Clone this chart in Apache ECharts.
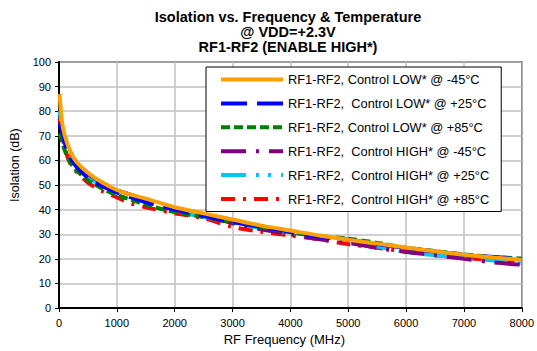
<!DOCTYPE html>
<html><head><meta charset="utf-8">
<script src="https://cdn.jsdelivr.net/npm/echarts@6/dist/echarts.min.js"></script>
<style>html,body{margin:0;padding:0;background:#fff}#c{width:537px;height:351px}</style>
</head><body><div id="c"></div>
<script>
var freq = [10, 50, 100, 200, 300, 500, 750, 1000, 1250, 1500, 2000, 2500, 3000, 3500, 4000, 4500, 5000, 5500, 6000, 6500, 7000, 7500, 8000];
var lowM45  = [87, 76, 70, 63.5, 59.5, 55, 51, 48, 46, 44.5, 41, 38.5, 36, 33.5, 31.5, 29.5, 27.8, 26.2, 24.6, 23.1, 21.7, 20.6, 19.6];
var lowP25  = [75, 72, 67, 61, 57.5, 53, 49.5, 47, 45, 43, 40, 37.5, 35, 33, 31, 29, 27.8, 26, 24.4, 23, 21.6, 20.8, 20];
var lowP85  = [71, 68, 64, 59, 56, 52, 48.5, 46, 44, 42, 39, 37, 35, 32.8, 30.8, 29.2, 28.2, 26.5, 24.5, 23.2, 21.8, 20.8, 20.1];
var highM45 = [76, 73, 68.5, 63, 59, 54.5, 51, 48, 46, 44, 40.5, 37.5, 34.5, 32, 30, 28, 26.5, 24.5, 22.8, 21.5, 20, 18.6, 17.6];
var highP25 = [80, 74, 67.5, 61.5, 57.5, 53, 50, 47, 45, 43, 39.5, 37, 34.5, 32.5, 30, 28.3, 26.8, 25, 22.8, 21.5, 20.6, 19.3, 18.2];
var highP85 = [77, 72, 65, 58.5, 55.5, 51, 47.5, 45, 42.5, 41, 38.5, 36.5, 33, 31, 29.5, 28, 26, 24.5, 23, 21.5, 20.4, 19.6, 19];
var names = [
  'RF1-RF2, Control LOW* @ -45°C',
  'RF1-RF2,  Control LOW* @ +25°C',
  'RF1-RF2, Control LOW* @ +85°C',
  'RF1-RF2,  Control HIGH* @ -45°C',
  'RF1-RF2,  Control HIGH* @ +25°C',
  'RF1-RF2,  Control HIGH* @ +85°C'
];
var values = [lowM45, lowP25, lowP85, highM45, highP25, highP85];
var colors = ['#FFA000', '#0000FF', '#008000', '#800080', '#00C8FF', '#FF0000'];
var dashes = ['solid', [26, 10], [9, 4], [25, 10, 3, 10], [25, 10, 3, 9, 3, 10], [14, 8, 3, 8]];

var series = values.map(function (v, i) {
  return {
    name: names[i], type: 'line', symbol: 'none', smooth: 0.3,
    data: freq.map(function (f, j) { return [f, v[j]]; }),
    lineStyle: { color: colors[i], width: 4, type: dashes[i] },
    itemStyle: { color: colors[i] },
    z: 10 - i
  };
});

var chart = echarts.init(document.getElementById('c'), null, { renderer: 'svg' });
chart.setOption({
  animation: false,
  backgroundColor: '#fff',
  title: {
    text: 'Isolation vs. Frequency & Temperature\n@ VDD=+2.3V\nRF1-RF2 (ENABLE HIGH*)',
    left: 283, top: 4, textAlign: 'center',
    textStyle: { fontFamily: 'Liberation Sans, Arial', fontWeight: 'bold', fontSize: 14.5, lineHeight: 15, color: '#000' }
  },
  grid: { left: 59, right: 15, top: 62, bottom: 36, show: true, borderColor: '#000', borderWidth: 1.5, backgroundColor: 'transparent' },
  legend: {
    orient: 'vertical', left: 206, top: 67,
    itemWidth: 62, itemHeight: 14, itemGap: 10.9,
    padding: [6, 12, 6, 13],
    backgroundColor: '#fff', borderColor: '#000', borderWidth: 1,
    itemStyle: { opacity: 0 },
    lineStyle: { width: 4 },
    textStyle: { fontFamily: 'Liberation Sans, Arial', fontSize: 12.8, color: '#000' },
    data: names
  },
  xAxis: {
    type: 'value', min: 0, max: 8000, interval: 1000,
    name: 'RF Frequency (MHz)', nameLocation: 'middle', nameGap: 16,
    nameTextStyle: { fontFamily: 'Liberation Sans, Arial', fontSize: 13, color: '#000', padding: [0, 12, 0, 0] },
    axisLine: { lineStyle: { color: '#000', width: 2 } },
    axisTick: { show: true, length: 4, lineStyle: { color: '#000', width: 1 } },
    axisLabel: { fontFamily: 'Liberation Sans, Arial', fontSize: 11, color: '#000', margin: 9, formatter: function (v) { return String(v); } },
    splitLine: { show: true, lineStyle: { color: '#c0c0c0', width: 1.5 } }
  },
  yAxis: {
    type: 'value', min: 0, max: 100, interval: 10,
    name: 'Isolation (dB)', nameLocation: 'middle', nameGap: 33,
    nameTextStyle: { fontFamily: 'Liberation Sans, Arial', fontSize: 12.5, color: '#000', padding: [0, 0, 0, 40] },
    axisLine: { lineStyle: { color: '#000', width: 2 } },
    axisTick: { show: true, length: 4, lineStyle: { color: '#000', width: 1 } },
    axisLabel: { fontFamily: 'Liberation Sans, Arial', fontSize: 11, color: '#000', margin: 8 },
    splitLine: { show: true, lineStyle: { color: '#c0c0c0', width: 1.5 } }
  },
  series: series
});
</script>
</body></html>
